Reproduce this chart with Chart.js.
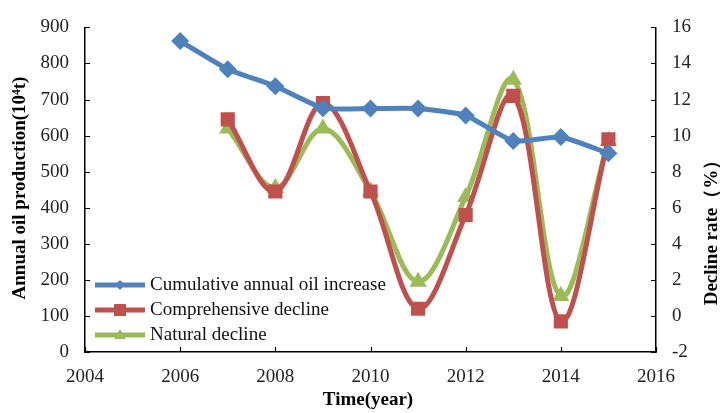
<!DOCTYPE html>
<html>
<head>
<meta charset="utf-8">
<script src="https://cdn.jsdelivr.net/npm/chart.js@4.4.1/dist/chart.umd.min.js"></script>
<style>
  html, body { margin: 0; padding: 0; background: #fff; }
  #wrap { width: 720px; height: 413px; }
</style>
</head>
<body>
<div id="wrap"><canvas id="chart" width="720" height="413"></canvas></div>
<script>
// ======= Data =======
const years = [2006, 2007, 2008, 2009, 2010, 2011, 2012, 2013, 2014, 2015];
const declineYears = [2007, 2008, 2009, 2010, 2011, 2012, 2013, 2014, 2015];

// 10^4 t
const cumulativeIncrease = [862, 784, 737, 676, 675, 675, 656, 585, 596, 551];
// %
const comprehensiveDecline = [10.9, 6.9, 11.8, 6.9, 0.4, 5.6, 12.2, -0.3, 9.8];
const naturalDecline = [10.4, 7.1, 10.4, 6.9, 1.9, 6.6, 13.1, 1.1, 9.7];

const xTicks = [2004, 2006, 2008, 2010, 2012, 2014, 2016];
const leftTicks = [0, 100, 200, 300, 400, 500, 600, 700, 800, 900];
const rightTicks = [-2, 0, 2, 4, 6, 8, 10, 12, 14, 16];

const BLUE = "#4f81bd";
const RED = "#c0504d";
const GREEN = "#9bbb59";
const SERIF = "'Liberation Serif', 'DejaVu Serif', serif";

const pairs = (xs, ys) => xs.map((x, i) => ({ x, y: ys[i] }));
const asTicks = (vals) => (s) => { s.ticks = vals.map((v) => ({ value: v })); };

// ======= Plugins =======
// tick marks drawn inward on every axis
const innerTicks = {
  id: "innerTicks",
  afterDraw(chart) {
    const { ctx, chartArea: a, scales } = chart;
    ctx.save();
    ctx.strokeStyle = "#000";
    ctx.lineWidth = 1.2;
    ctx.beginPath();
    scales.x.ticks.forEach((t) => {
      const px = Math.round(scales.x.getPixelForValue(t.value)) + 0.5;
      ctx.moveTo(px, a.bottom);
      ctx.lineTo(px, a.bottom - 5);
    });
    scales.y.ticks.forEach((t) => {
      const py = Math.round(scales.y.getPixelForValue(t.value)) + 0.5;
      ctx.moveTo(a.left, py);
      ctx.lineTo(a.left + 5, py);
    });
    scales.y1.ticks.forEach((t) => {
      const py = Math.round(scales.y1.getPixelForValue(t.value)) + 0.5;
      ctx.moveTo(a.right, py);
      ctx.lineTo(a.right - 5, py);
    });
    ctx.stroke();
    ctx.restore();
  }
};

// axis titles + legend box in the lower left of the plot
const annotations = {
  id: "annotations",
  afterDraw(chart) {
    const { ctx } = chart;
    ctx.save();
    ctx.fillStyle = "#000";
    ctx.font = "bold 19px " + SERIF;
    ctx.textAlign = "center";
    ctx.textBaseline = "middle";

    ctx.fillText("Time(year)", 368, 400);

    ctx.save();
    ctx.translate(20, 188);
    ctx.rotate(-Math.PI / 2);
    ctx.fillText("Annual oil production(10\u2074t)", 0, 0);
    ctx.restore();

    ctx.save();
    ctx.translate(712, 228);
    ctx.rotate(-Math.PI / 2);
    ctx.fillText("Decline rate\uff08%\uff09", 0, 0);
    ctx.restore();

    // legend
    ctx.font = "19px " + SERIF;
    ctx.textAlign = "left";
    const rows = [285, 310, 335];
    chart.data.datasets.forEach((ds, i) => {
      const y = rows[i];
      ctx.strokeStyle = ds.borderColor;
      ctx.lineWidth = 5;
      ctx.beginPath();
      ctx.moveTo(95, y);
      ctx.lineTo(145, y);
      ctx.stroke();
      ctx.fillStyle = ds.borderColor;
      ctx.beginPath();
      if (ds.pointStyle === "rectRot") {
        ctx.moveTo(120, y - 5); ctx.lineTo(125, y); ctx.lineTo(120, y + 5); ctx.lineTo(115, y);
      } else if (ds.pointStyle === "rect") {
        ctx.rect(114, y - 6, 12, 12);
      } else {
        ctx.moveTo(120, y - 6); ctx.lineTo(126, y + 4); ctx.lineTo(114, y + 4);
      }
      ctx.closePath();
      ctx.fill();
      ctx.fillStyle = "#111";
      ctx.fillText(ds.label, 150, y);
    });
    ctx.restore();
  }
};

// ======= Chart =======
new Chart(document.getElementById("chart"), {
  type: "line",
  data: {
    datasets: [
      {
        label: "Cumulative annual oil increase",
        data: pairs(years, cumulativeIncrease),
        yAxisID: "y",
        borderColor: BLUE,
        backgroundColor: BLUE,
        borderWidth: 5,
        tension: 0.15,
        pointStyle: "rectRot",
        pointRadius: 9,
        pointBorderWidth: 0
      },
      {
        label: "Comprehensive decline",
        data: pairs(declineYears, comprehensiveDecline),
        yAxisID: "y1",
        borderColor: RED,
        backgroundColor: RED,
        borderWidth: 5,
        tension: 0.35,
        pointStyle: "rect",
        pointRadius: 10,
        pointBorderWidth: 0
      },
      {
        label: "Natural decline",
        data: pairs(declineYears, naturalDecline),
        yAxisID: "y1",
        borderColor: GREEN,
        backgroundColor: GREEN,
        borderWidth: 5,
        tension: 0.35,
        pointStyle: "triangle",
        pointRadius: 10,
        pointBorderWidth: 0
      }
    ]
  },
  options: {
    responsive: false,
    animation: false,
    layout: { padding: { top: 20, left: 0, right: 0, bottom: 0 } },
    plugins: { legend: { display: false }, tooltip: { enabled: false } },
    scales: {
      x: {
        type: "linear",
        min: 2004,
        max: 2016,
        afterBuildTicks: asTicks(xTicks),
        afterFit: (s) => { s.height = 61; },
        grid: { display: false, drawTicks: false },
        border: { display: true, color: "#000", width: 1.5 },
        ticks: { color: "#222", font: { family: SERIF, size: 19 }, padding: 14, callback: (v) => String(v), maxRotation: 0 }
      },
      y: {
        position: "left",
        min: 0,
        max: 900,
        afterBuildTicks: asTicks(leftTicks),
        afterFit: (s) => { s.width = 85; },
        grid: { display: false, drawTicks: false },
        border: { display: true, color: "#000", width: 1.5 },
        ticks: { color: "#222", font: { family: SERIF, size: 19 }, padding: 16 }
      },
      y1: {
        position: "right",
        min: -2,
        max: 16,
        afterBuildTicks: asTicks(rightTicks),
        afterFit: (s) => { s.width = 64; },
        grid: { display: false, drawTicks: false },
        border: { display: true, color: "#000", width: 1.5 },
        ticks: { color: "#222", font: { family: SERIF, size: 19 }, padding: 16 }
      }
    }
  },
  plugins: [innerTicks, annotations]
});
</script>
</body>
</html>
